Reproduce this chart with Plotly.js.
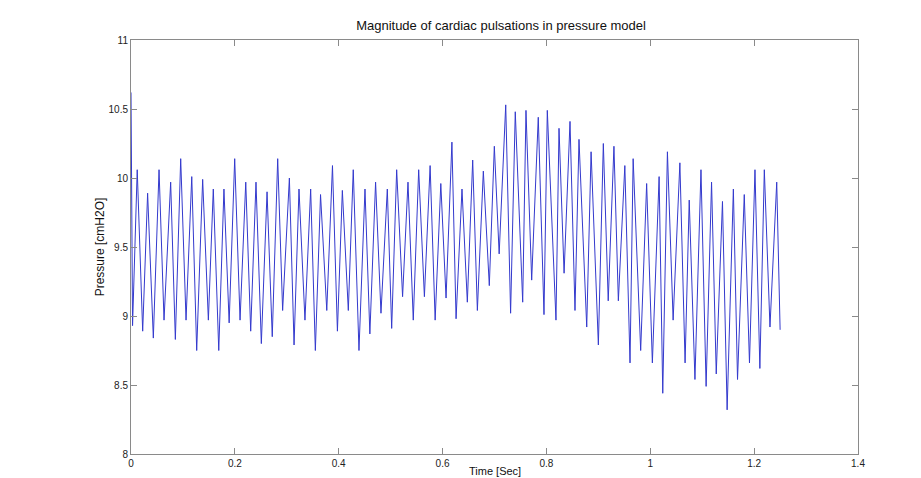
<!DOCTYPE html>
<html>
<head>
<meta charset="utf-8">
<script src="https://cdn.plot.ly/plotly-3.0.1.min.js"></script>
<style>
html,body{margin:0;padding:0;background:#fff;overflow:hidden;}
#chart{width:921px;height:478px;}
</style>
</head>
<body>
<div id="chart"></div>
<script>
// Time samples (s) (peaks and troughs)
const timeSec = [
  0, 0.003, 0.012, 0.0225, 0.032, 0.043, 0.054, 0.0636, 0.0764, 0.0854,
  0.0957, 0.106, 0.117, 0.1265, 0.138, 0.149, 0.1585, 0.169, 0.179, 0.189,
  0.1997, 0.21, 0.221, 0.2305, 0.2407, 0.251, 0.262, 0.272, 0.2825, 0.292,
  0.305, 0.314, 0.3235, 0.335, 0.346, 0.355, 0.365, 0.377, 0.388, 0.3975,
  0.407, 0.4185, 0.428, 0.439, 0.4506, 0.460, 0.471, 0.4814, 0.4936, 0.502,
  0.5116, 0.523, 0.5334, 0.5436, 0.554, 0.565, 0.576, 0.5857, 0.5966, 0.6067,
  0.618, 0.626, 0.6374, 0.6477, 0.658, 0.667, 0.6785, 0.69, 0.6997, 0.709,
  0.7216, 0.731, 0.740, 0.7543, 0.7606, 0.7716, 0.7843, 0.7953, 0.8017, 0.8184,
  0.8242, 0.834, 0.8454, 0.855, 0.8627, 0.8776, 0.886, 0.900, 0.9096, 0.919,
  0.930, 0.9385, 0.951, 0.961, 0.967, 0.9815, 0.993, 1.004, 1.017, 1.024,
  1.033, 1.044, 1.057, 1.067, 1.075, 1.086, 1.0976, 1.1075, 1.118, 1.127,
  1.139, 1.148, 1.160, 1.168, 1.181, 1.191, 1.2016, 1.211, 1.2196, 1.2305,
  1.2435, 1.25
];
// Pressure (cmH2O) at those samples
const pressure = [
  10.62, 8.93, 10.06, 8.89, 9.89, 8.84, 10.06, 8.97, 9.97, 8.83,
  10.14, 8.97, 10.01, 8.75, 9.99, 8.97, 9.92, 8.75, 9.92, 8.95,
  10.14, 8.97, 9.97, 8.89, 9.97, 8.80, 9.90, 8.85, 10.14, 9.04,
  10.00, 8.79, 9.92, 8.97, 9.92, 8.75, 9.88, 9.04, 10.09, 8.89,
  9.91, 9.04, 10.06, 8.75, 9.92, 8.87, 9.97, 9.02, 9.92, 8.91,
  10.06, 9.14, 9.97, 8.97, 10.06, 9.14, 10.09, 8.97, 9.96, 9.13,
  10.26, 8.98, 9.92, 9.10, 10.13, 9.04, 10.05, 9.22, 10.23, 9.45,
  10.53, 9.02, 10.48, 9.10, 10.49, 9.26, 10.44, 9.01, 10.49, 8.97,
  10.36, 9.31, 10.41, 9.04, 10.28, 8.92, 10.19, 8.79, 10.25, 9.11,
  10.23, 9.11, 10.09, 8.66, 10.14, 8.75, 9.96, 8.66, 10.01, 8.44,
  10.19, 8.97, 10.11, 8.66, 9.84, 8.54, 10.06, 8.49, 9.97, 8.58,
  9.83, 8.32, 9.92, 8.54, 9.88, 8.66, 10.06, 8.62, 10.06, 8.92,
  9.97, 8.90
];
const xTickVals = [0, 0.2, 0.4, 0.6, 0.8, 1, 1.2, 1.4];
const xTickText = ["0", "0.2", "0.4", "0.6", "0.8", "1", "1.2", "1.4"];
const yTickVals = [8, 8.5, 9, 9.5, 10, 10.5, 11];
const yTickText = ["8", "8.5", "9", "9.5", "10", "10.5", "11"];

const fam = "Liberation Sans, Arial, Helvetica, sans-serif";

const trace = {
  x: timeSec,
  y: pressure,
  type: "scatter",
  mode: "lines",
  line: {color: "rgb(52,58,205)", width: 1},
  hoverinfo: "skip"
};

const axisCommon = {
  showgrid: false,
  zeroline: false,
  showline: true,
  linecolor: "#8a8a8a",
  linewidth: 1,
  mirror: "ticks",
  ticks: "inside",
  ticklen: 6,
  tickcolor: "#8a8a8a",
  tickwidth: 1,
  tickfont: {family: fam, size: 10, color: "#222"}
};

const layout = {
  width: 921,
  height: 478,
  margin: {l: 131, r: 63, t: 40, b: 24, autoexpand: false},
  paper_bgcolor: "#fff",
  plot_bgcolor: "#fff",
  showlegend: false,
  title: {
    text: "Magnitude of cardiac pulsations in pressure model",
    font: {family: fam, size: 13, color: "#111"},
    x: 0.544, xanchor: "center",
    y: 0.946, yanchor: "middle"
  },
  xaxis: Object.assign({}, axisCommon, {
    range: [0, 1.4],
    tickmode: "array",
    tickvals: xTickVals,
    ticktext: xTickText
  }),
  yaxis: Object.assign({}, axisCommon, {
    range: [8, 11],
    tickmode: "array",
    tickvals: yTickVals,
    ticktext: yTickText,
    title: {text: "Pressure [cmH2O]", font: {family: fam, size: 12, color: "#111"}, standoff: 1}
  }),
  annotations: [{
    text: "Time [Sec]",
    xref: "paper", yref: "paper",
    x: 0.5, y: -0.057,
    xanchor: "center", yanchor: "bottom",
    borderpad: 0,
    showarrow: false,
    font: {family: fam, size: 11, color: "#111"}
  }]
};

Plotly.newPlot("chart", [trace], layout, {displayModeBar: false, staticPlot: true});
</script>
</body>
</html>
